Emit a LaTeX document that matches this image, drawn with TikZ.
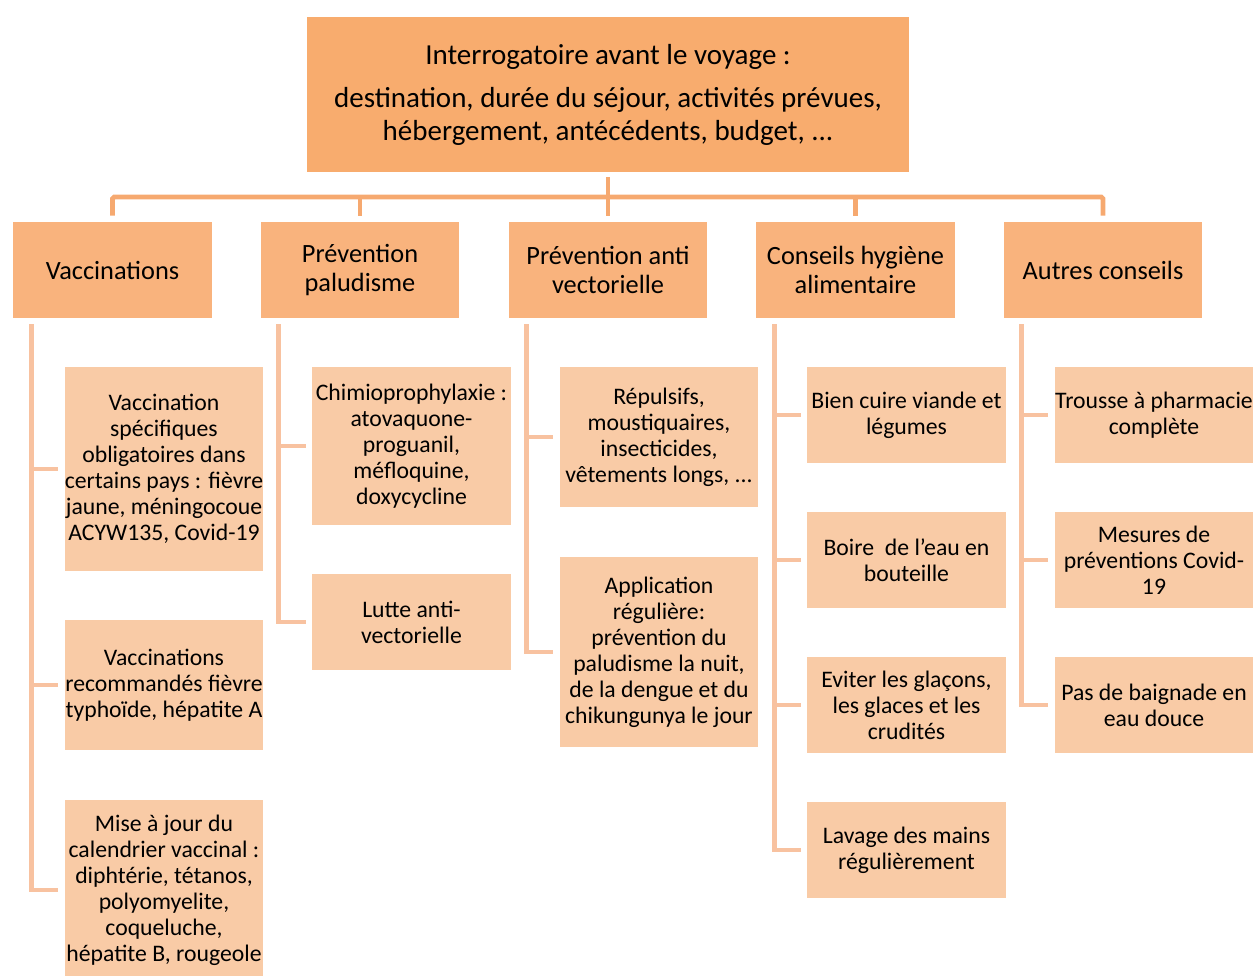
\documentclass[tikz,border=0pt]{standalone}
\usepackage{fontspec}
\setmainfont{Carlito}
\usetikzlibrary{calc}
\definecolor{topfill}{HTML}{F8AC6E}
\definecolor{catfill}{HTML}{F9B37D}
\definecolor{leaffill}{HTML}{F9CBA6}
\definecolor{barcol}{HTML}{F6A970}
\definecolor{leafcol}{HTML}{F8C2A0}
\begin{document}
\begin{tikzpicture}
    [
        x=0.02cm, y=-0.02cm,
        topbox/.style={fill=topfill, minimum width=12.04cm, minimum height=3.1cm, inner sep=0pt, align=center, font=\fontsize{16.5}{18.5}\selectfont},
        catbox/.style={fill=catfill, minimum width=3.98cm, minimum height=1.92cm, inner sep=0pt, align=center, font=\fontsize{15}{16.5}\selectfont},
        leafbox/.style={fill=leaffill, minimum width=3.98cm, minimum height=#1, inner sep=0pt, align=center, font=\fontsize{13.5}{14.8}\selectfont},
        leafbox/.default=1.92cm,
        barline/.style={draw=barcol, line width=2.8pt},
        leafline/.style={draw=leafcol, line width=2.8pt}
    ]

    \useasboundingbox (0,0) rectangle (1258,975);

    \node[topbox] (top) at (608,94.5) {Interrogatoire avant le voyage :\\[0.22cm]
        destination, durée du séjour, activités prévues,\\
        hébergement, antécédents, budget, ...};

    \node[catbox] (vacc) at (112.5,270) {Vaccinations};
    \node[catbox] (palu) at (360,270) {Prévention\\paludisme};
    \node[catbox] (antiv) at (608,270) {Prévention anti\\vectorielle};
    \node[catbox] (hyg) at (855.5,270) {Conseils hygiène\\alimentaire};
    \node[catbox] (autres) at (1103,270) {Autres conseils};

    \coordinate (bar) at (608,197);
    \draw[barline] ([yshift=-0.1cm]top.south) -- (bar);
    \draw[barline, rounded corners=1pt] ([yshift=0.12cm]vacc.north) -- (vacc.north |- bar)
        -- (autres.north |- bar) -- ([yshift=0.12cm]autres.north);
    \foreach \n in {palu, antiv, hyg}
        \draw[barline] (\n.north |- bar) -- ([yshift=0.12cm]\n.north);

    \node[leafbox=4.08cm] (v1) at (164,469) {Vaccination\\spécifiques\\obligatoires dans\\certains pays : fièvre\\jaune, méningocoue\\ACYW135, Covid-19};
    \node[leafbox=2.6cm] (v2) at (164,685) {Vaccinations\\recommandés fièvre\\typhoïde, hépatite A};
    \node[leafbox=3.6cm] (v3) at (164,890) {Mise à jour du\\calendrier vaccinal :\\diphtérie, tétanos,\\polyomyelite,\\coqueluche,\\hépatite B, rougeole};

    \node[leafbox=3.16cm] (p1) at (411.5,446) {Chimioprophylaxie :\\atovaquone-\\proguanil,\\méfloquine,\\doxycycline};
    \node[leafbox] (p2) at (411.5,622) {Lutte anti-\\vectorielle};

    \node[leafbox=2.8cm] (a1) at (659,437) {Répulsifs,\\moustiquaires,\\insecticides,\\vêtements longs, ...};
    \node[leafbox=3.82cm] (a2) at (659,652) {Application\\régulière:\\prévention du\\paludisme la nuit,\\de la dengue et du\\chikungunya le jour};

    \node[leafbox] (h1) at (906.5,415) {Bien cuire viande et\\légumes};
    \node[leafbox] (h2) at (906.5,560) {Boire\ \ de l'eau en\\bouteille};
    \node[leafbox] (h3) at (906.5,705) {Eviter les glaçons,\\les glaces et les\\crudités};
    \node[leafbox] (h4) at (906.5,850) {Lavage des mains\\régulièrement};

    \node[leafbox] (c1) at (1154,415) {Trousse à pharmacie\\complète};
    \node[leafbox] (c2) at (1154,560) {Mesures de\\préventions Covid-\\19};
    \node[leafbox] (c3) at (1154,705) {Pas de baignade en\\eau douce};

    \coordinate (cv) at ([xshift=0.37cm, yshift=-0.12cm]vacc.south west);
    \coordinate (cp) at ([xshift=0.37cm, yshift=-0.12cm]palu.south west);
    \coordinate (ca) at ([xshift=0.37cm, yshift=-0.12cm]antiv.south west);
    \coordinate (ch) at ([xshift=0.37cm, yshift=-0.12cm]hyg.south west);
    \coordinate (cc) at ([xshift=0.37cm, yshift=-0.12cm]autres.south west);

    \draw[leafline] (cv) |- ([xshift=-0.12cm]v3.west);
    \draw[leafline] (cp) |- ([xshift=-0.12cm]p2.west);
    \draw[leafline] (ca) |- ([xshift=-0.12cm]a2.west);
    \draw[leafline] (ch) |- ([xshift=-0.12cm]h4.west);
    \draw[leafline] (cc) |- ([xshift=-0.12cm]c3.west);
    \foreach \c/\n in {cv/v1, cv/v2, cp/p1, ca/a1, ch/h1, ch/h2, ch/h3, cc/c1, cc/c2}
        \draw[leafline] (\c |- \n.west) -- ([xshift=-0.12cm]\n.west);
\end{tikzpicture}
\end{document}
